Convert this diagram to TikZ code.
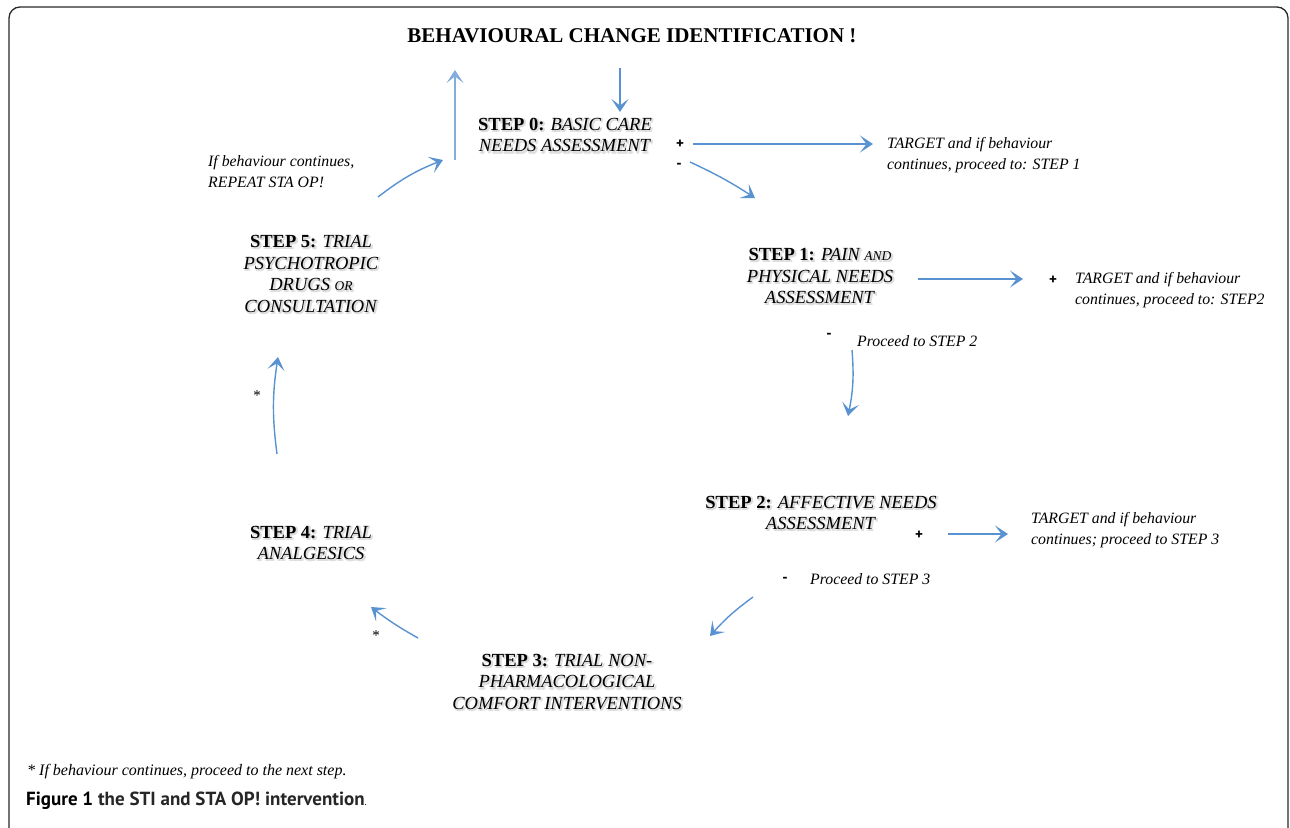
\documentclass[tikz,border=0pt]{standalone}
\usepackage{fontspec}
\setmainfont{Liberation Serif}
\newfontfamily\capfont{PT Sans}
\usetikzlibrary{arrows.meta,calc}
\definecolor{arrowblue}{RGB}{88,146,208}
\definecolor{framegray}{RGB}{40,40,40}
\tikzset{
  conn/.style={draw=arrowblue, line width=1.4pt, -{Stealth[length=13pt,width=17pt,inset=6.5pt]}},
  steptext/.style={align=center, inner sep=0pt, font=\fontsize{18.5}{21.5}\selectfont},
  stepshadow/.style={steptext, text=black!13},
  note/.style={align=left, anchor=west, inner sep=0pt, font=\fontsize{15.8}{21}\selectfont\itshape},
  sign/.style={inner sep=0pt, font=\capfont\bfseries\fontsize{15}{15}\selectfont},
  star/.style={inner sep=0pt, font=\fontsize{15}{15}\selectfont}
}
\newcommand{\stepnode}[3]{%
  \foreach \dx/\dy in {1.5/2.2,2.2/1.5,0.6/2.0,2.0/0.6,1.2/1.2} {
    \node[stepshadow] at ($(#2)+(\dx,\dy)$) {#3};
  }
  \node[steptext] (#1) at (#2) {#3};
}
\newcommand{\smc}[1]{{\fontsize{13.5}{13.5}\selectfont #1}}
\begin{document}
\begin{tikzpicture}[x=1pt,y=-1pt]
\useasboundingbox (0,0) rectangle (1290,827);
% frame
\draw[framegray, line width=1.3pt, rounded corners=11pt] (9,7) -- (1288,7) -- (1288,840) -- (9,840) -- cycle;

% title
\node[inner sep=0pt, font=\bfseries\fontsize{21}{24}\selectfont] (title) at (632,36) {BEHAVIOURAL CHANGE IDENTIFICATION !};

% steps
\stepnode{s0}{565,135}{\textbf{STEP 0:} \textit{BASIC CARE}\\ \textit{NEEDS ASSESSMENT}}
\stepnode{s1}{820,276}{\textbf{STEP 1:} \textit{PAIN \smc{AND}}\\ \textit{PHYSICAL NEEDS}\\ \textit{ASSESSMENT}}
\stepnode{s2}{821,513}{\textbf{STEP 2:} \textit{AFFECTIVE NEEDS}\\ \textit{ASSESSMENT}}
\stepnode{s3}{567,682}{\textbf{STEP 3:} \textit{TRIAL NON-}\\ \textit{PHARMACOLOGICAL}\\ \textit{COMFORT INTERVENTIONS}}
\stepnode{s4}{311,543}{\textbf{STEP 4:} \textit{TRIAL}\\ \textit{ANALGESICS}}
\stepnode{s5}{311,274}{\textbf{STEP 5:} \textit{TRIAL}\\ \textit{PSYCHOTROPIC}\\ \textit{DRUGS \smc{OR}}\\ \textit{CONSULTATION}}

% notes
\node[note] (repeat) at (208,172) {If behaviour continues,\\ REPEAT STA OP!};
\node[note] (t0) at (887,155) {TARGET and if behaviour\\ continues, proceed to: STEP 1};
\node[note] (t1) at (1075,290) {TARGET and if behaviour\\ continues, proceed to: STEP2};
\node[note] (t2) at (1031,530) {TARGET and if behaviour\\ continues; proceed to STEP 3};
\node[note] (p2) at (857,341) {Proceed to STEP 2};
\node[note] (p3) at (810,579) {Proceed to STEP 3};

% signs
\node[sign] (plus0) at (680,144) {+};
\node[sign] (minus0) at (679,166) {-};
\node[sign] (plus1) at (1053,280) {+};
\node[sign] (minus1) at (829,336) {-};
\node[sign] (plus2) at (919,535) {+};
\node[sign] (minus2) at (785,580) {-};
\node[star] (star1) at (257,396) {*};
\node[star] (star2) at (376,636) {*};

% connector end points
\coordinate (a1s) at (620,68);  \coordinate (a1e) at (620,112);
\coordinate (a2s) at (455,160); \coordinate (a2e) at (455,70);
\coordinate (a3s) at (378,197); \coordinate (a3e) at (443,160);
\coordinate (a4s) at (693,144); \coordinate (a4e) at (873,144);
\coordinate (a5s) at (690,162); \coordinate (a5e) at (755,198);
\coordinate (a6s) at (918,279); \coordinate (a6e) at (1023,279);
\coordinate (a7s) at (852,350); \coordinate (a7e) at (848,416);
\coordinate (a8s) at (277,454); \coordinate (a8e) at (278,357);
\coordinate (a9s) at (948,534); \coordinate (a9e) at (1008,534);
\coordinate (a10s) at (753,597); \coordinate (a10e) at (710,636);
\coordinate (a11s) at (418,638); \coordinate (a11e) at (371,607);

\draw[conn] (a1s) -- (a1e);
\draw[conn, draw=arrowblue!75, line width=1.1pt] (a2s) -- (a2e);
\draw[conn] (a3s) to[bend left=8] (a3e);
\draw[conn] (a4s) -- (a4e);
\draw[conn] (a5s) to[bend left=4] (a5e);
\draw[conn] (a6s) -- (a6e);
\draw[conn] (a7s) to[bend left=8] (a7e);
\draw[conn] (a8s) to[bend left=8] (a8e);
\draw[conn] (a9s) -- (a9e);
\draw[conn] (a10s) to[bend right=6] (a10e);
\draw[conn] (a11s) to[bend left=4] (a11e);

% footnote and caption
\node[note, font=\fontsize{16}{18}\selectfont\itshape] (foot) at (27,772) {* If behaviour continues, proceed to the next step.};
\node[anchor=west, inner sep=0pt, font=\capfont\fontsize{19}{22}\selectfont] (cap) at (26,801) {\textbf{Figure 1 }{\color{black!85}\textbf{the STI and STA OP! intervention}}{\fontsize{10}{10}\selectfont.}};
\end{tikzpicture}
\end{document}
